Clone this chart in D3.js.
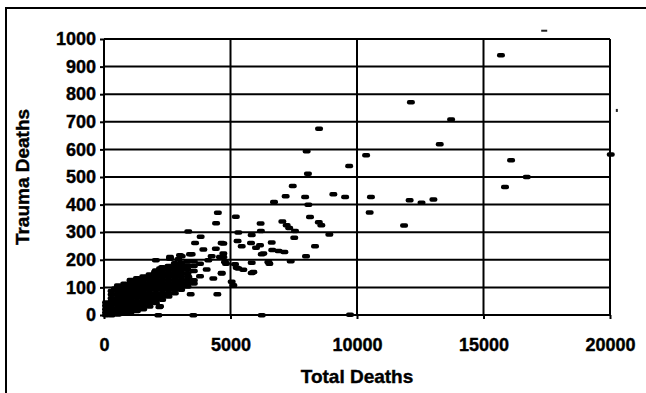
<!DOCTYPE html>
<html>
<head>
<meta charset="utf-8">
<script src="https://cdn.jsdelivr.net/npm/d3@7"></script>
<style>
  html, body { margin: 0; padding: 0; background: #fff; }
  svg { display: block; }
  text { font-family: "Liberation Sans", Arial, sans-serif; font-weight: bold; fill: #000; }
</style>
</head>
<body>
<svg id="chart" width="646" height="393"></svg>
<script>
// ---- Data ----
const xTickValues = [0, 5000, 10000, 15000, 20000];
const yTickValues = [0, 100, 200, 300, 400, 500, 600, 700, 800, 900, 1000];
const xTitle = "Total Deaths";
const yTitle = "Trauma Deaths";

// Scattered points (total deaths, trauma deaths)
const sparseTotal = [15690, 12130, 13720, 8500, 13270, 8010, 20030, 10360, 16090, 9690,
  8060, 16710, 15850, 7460, 7180, 7950, 9065, 9530, 10550, 12080,
  12550, 13020, 6720, 8077, 10500, 11860, 4500, 4430, 5210, 8143,
  6190, 7050, 7220, 8490, 8590, 7320, 7550, 5309, 6200, 5838,
  8907, 7520, 3330, 3820, 4650, 5280, 3600, 3927, 4420, 3070,
  3465, 4255, 4717, 2609, 2938, 2050, 4717, 5811, 6009, 6629,
  6650, 6900, 7130, 8341, 6234, 7985, 6536, 7380, 5838, 5838,
  5309, 5178, 5507, 4717, 4783, 4651, 5443, 6167, 6299, 6497,
  5903, 5112, 4124, 4585, 4823, 5244, 4058, 3795, 3070, 3795,
  4321, 4651, 5046, 4480, 3426, 2938, 2214, 2148, 3531, 6234,
  9724, 2609, 3004, 2214, 2938, 3268, 3334, 2938, 1160, 1686,
  2016, 1818, 435, 2675, 3400, 2190];
const sparseTrauma = [942, 772, 709, 676, 620, 594, 582, 580, 562, 541,
  513, 501, 465, 468, 431, 428, 438, 428, 428, 417,
  408, 419, 410, 400, 372, 325, 371, 333, 357, 356,
  332, 340, 326, 337, 326, 316, 305, 300, 305, 291,
  293, 281, 303, 284, 262, 269, 262, 238, 241, 214,
  221, 214, 224, 205, 203, 199, 260, 262, 245, 264,
  236, 233, 229, 250, 221, 214, 187, 196, 190, 153,
  169, 185, 165, 211, 193, 151, 250, 254, 224, 193,
  157, 109, 199, 211, 187, 172, 166, 187, 181, 141,
  133, 153, 121, 76, 76, 109, 33, 0, 0, 0,
  2, 211, 217, 169, 169, 175, 139, 121, 127, 139,
  157, 139, 97, 175, 221, 30];

// Dense cluster near the origin (read column by column)
const clusterTotal = [
  80, 80, 80, 80, 80,
  300, 300, 300, 300, 300, 300, 300, 300,
  550, 550, 550, 550, 550, 550, 550, 550, 550, 550,
  800, 800, 800, 800, 800, 800, 800, 800, 800, 800,
  1050, 1050, 1050, 1050, 1050, 1050, 1050, 1050, 1050, 1050, 1050,
  1300, 1300, 1300, 1300, 1300, 1300, 1300, 1300, 1300, 1300, 1300,
  1550, 1550, 1550, 1550, 1550, 1550, 1550, 1550, 1550, 1550, 1550,
  1800, 1800, 1800, 1800, 1800, 1800, 1800, 1800, 1800, 1800, 1800,
  2050, 2050, 2050, 2050, 2050, 2050, 2050, 2050, 2050, 2050, 2050,
  2300, 2300, 2300, 2300, 2300, 2300, 2300, 2300, 2300, 2300, 2300,
  2550, 2550, 2550, 2550, 2550, 2550, 2550, 2550, 2550, 2550,
  2800, 2800, 2800, 2800, 2800, 2800, 2800, 2800, 2800, 2800,
  3050, 3050, 3050, 3050, 3050, 3050, 3050, 3050, 3050,
  3300, 3300, 3300, 3300, 3300, 3300, 3300,
  3550, 3550, 3550, 3550, 3550];
const clusterTrauma = [
  0, 10, 22, 34, 46,
  0, 12, 25, 38, 50, 62, 75, 88,
  3, 15, 28, 40, 52, 64, 76, 88, 100, 108,
  6, 18, 30, 42, 54, 66, 78, 90, 102, 114,
  10, 22, 34, 46, 58, 70, 82, 94, 106, 118, 128,
  15, 27, 39, 51, 63, 75, 87, 99, 111, 123, 134,
  22, 34, 46, 58, 70, 82, 94, 106, 118, 130, 140,
  32, 44, 56, 68, 80, 92, 104, 116, 128, 140, 148,
  44, 56, 68, 80, 92, 104, 116, 128, 140, 152, 162,
  56, 68, 80, 92, 104, 116, 128, 140, 152, 164, 174,
  68, 80, 92, 104, 116, 128, 140, 152, 164, 178,
  80, 92, 104, 116, 128, 140, 152, 164, 176, 188,
  92, 104, 116, 128, 140, 152, 164, 176, 190,
  104, 116, 128, 150, 165, 180, 195,
  115, 127, 160, 178, 195];

// Faint marks outside the plot area
const faintTotal = [17400, 20270];
const faintTrauma = [1030, 743];

// ---- Drawing ----
const svg = d3.select("#chart");
const x = d3.scaleLinear().domain([0, 20000]).range([104, 610]);
const y = d3.scaleLinear().domain([0, 1000]).range([315, 39]);

// outer frame (top and left lines)
svg.append("path")
  .attr("d", d3.line()([[6, 393], [6, 8], [646, 8]]))
  .attr("fill", "none").attr("stroke", "#000").attr("stroke-width", 2);

// gridlines
svg.append("g").selectAll("line").data(yTickValues).join("line")
  .attr("x1", x(0)).attr("x2", x(20000))
  .attr("y1", d => y(d)).attr("y2", d => y(d))
  .attr("stroke", "#000").attr("stroke-width", 2);
svg.append("g").selectAll("line").data(xTickValues).join("line")
  .attr("x1", d => x(d)).attr("x2", d => x(d))
  .attr("y1", y(0)).attr("y2", y(1000))
  .attr("stroke", "#000").attr("stroke-width", 2);

// axes
const yAxis = svg.append("g").attr("transform", `translate(${x(0)},0)`)
  .call(d3.axisLeft(y).tickValues(yTickValues).tickFormat(d3.format("d")).tickSize(4).tickPadding(4));
const xAxis = svg.append("g").attr("transform", `translate(0,${y(0)})`)
  .call(d3.axisBottom(x).tickValues(xTickValues).tickFormat(d3.format("d")).tickSize(4).tickPadding(19));
[yAxis, xAxis].forEach(g => {
  g.select(".domain").remove();
  g.selectAll(".tick line").attr("stroke", "#000").attr("stroke-width", 2);
  g.selectAll(".tick text").attr("font-size", 18).attr("font-family", "Liberation Sans, Arial, sans-serif")
    .attr("font-weight", "bold").attr("fill", "#000")
    .attr("stroke", "#000").attr("stroke-width", 0.4);
});

// titles
svg.append("text").attr("x", (x(0) + x(20000)) / 2).attr("y", 383)
  .attr("text-anchor", "middle").attr("font-size", 19)
  .attr("stroke", "#000").attr("stroke-width", 0.4).text(xTitle);
svg.append("text").attr("transform", `translate(29,${(y(0) + y(1000)) / 2}) rotate(-90)`)
  .attr("text-anchor", "middle").attr("font-size", 19)
  .attr("stroke", "#000").attr("stroke-width", 0.4).text(yTitle);

// markers
const pts = clusterTotal.map((v, i) => [v, clusterTrauma[i]])
  .concat(sparseTotal.map((v, i) => [v, sparseTrauma[i]]));
svg.append("g").selectAll("rect").data(pts).join("rect")
  .attr("x", d => x(d[0]) - 4).attr("y", d => y(d[1]) - 2)
  .attr("width", 8).attr("height", 4.5).attr("rx", 2)
  .attr("fill", "#000");

const faint = faintTotal.map((v, i) => [v, faintTrauma[i]]);
svg.append("g").selectAll("rect").data(faint).join("rect")
  .attr("x", (d, i) => x(d[0]) - (i === 0 ? 3 : 1))
  .attr("y", d => y(d[1]) - 1)
  .attr("width", (d, i) => i === 0 ? 6 : 2).attr("height", (d, i) => i === 0 ? 2 : 3)
  .attr("fill", "#222");
</script>
</body>
</html>
